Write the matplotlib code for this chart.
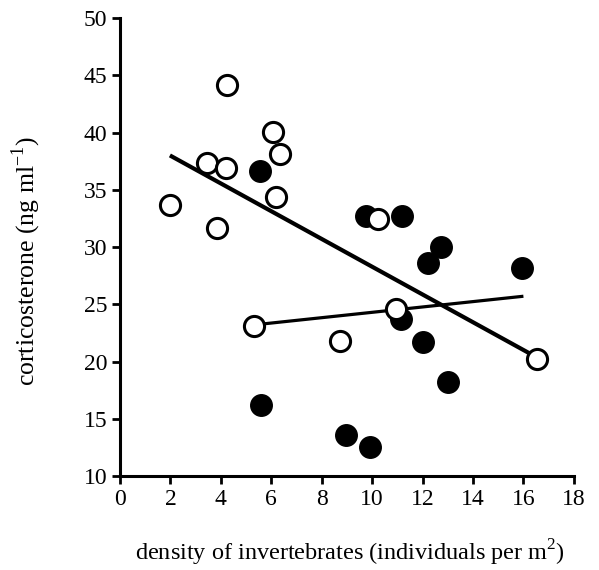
import matplotlib
matplotlib.use("Agg")
import matplotlib.pyplot as plt

# open circles
open_x = [2.0, 3.45, 4.25, 4.2, 3.85, 6.07, 6.35, 6.2, 10.24, 10.95, 5.32, 8.73, 16.55]
open_y = [33.67, 37.3, 44.15, 36.9, 31.66, 40.04, 38.1, 34.4, 32.45, 24.6, 23.1, 21.8, 20.2]

# filled circles
filled_x = [5.56, 9.75, 11.19, 12.74, 12.22, 15.95, 11.15, 12.0, 13.0, 5.6, 8.97, 9.92]
filled_y = [36.64, 32.7, 32.7, 30.0, 28.6, 28.2, 23.7, 21.7, 18.2, 16.2, 13.6, 12.5]

# regression lines (endpoints)
fit1_x = [1.98, 16.5]
fit1_y = [38.0, 20.4]
fit2_x = [5.32, 16.0]
fit2_y = [23.2, 25.7]

xticks = list(range(0, 19, 2))
yticks = list(range(10, 51, 5))

plt.rcParams['font.family'] = ['Liberation Serif', 'DejaVu Serif']
plt.rcParams['mathtext.fontset'] = 'custom'
plt.rcParams['mathtext.rm'] = 'Liberation Serif'

fig = plt.figure(figsize=(5.99, 5.70), dpi=100)
ax = fig.add_axes([0.2003, 0.1649, 0.7577, 0.8035])

ax.plot(fit1_x, fit1_y, color='black', lw=3.0, solid_capstyle='butt', zorder=2)
ax.plot(fit2_x, fit2_y, color='black', lw=2.3, solid_capstyle='butt', zorder=2)

ax.plot(filled_x, filled_y, 'o', ms=15.5, mfc='black', mec='black', mew=1, zorder=3)
ax.plot(open_x, open_y, 'o', ms=14.5, mfc='white', mec='black', mew=2.2, zorder=4)

ax.set_xlim(0, 18)
ax.set_ylim(10, 50)
ax.set_xticks(xticks)
ax.set_yticks(yticks)
ax.tick_params(direction='out', length=6, width=2, labelsize=17, pad=3)

for side in ['top', 'right']:
    ax.spines[side].set_visible(False)
for side in ['left', 'bottom']:
    ax.spines[side].set_linewidth(2.2)

ax.set_xlabel('density of invertebrates (individuals per m$^{\\mathrm{2}}$)', fontsize=17.5, va='center')
ax.set_ylabel('corticosterone (ng ml$^{\\mathrm{\u22121}}$)', fontsize=18.5, va='center')
ax.xaxis.set_label_coords(0.507, -0.168)
ax.yaxis.set_label_coords(-0.207, 0.47)

fig.savefig('out.png', dpi=100)
